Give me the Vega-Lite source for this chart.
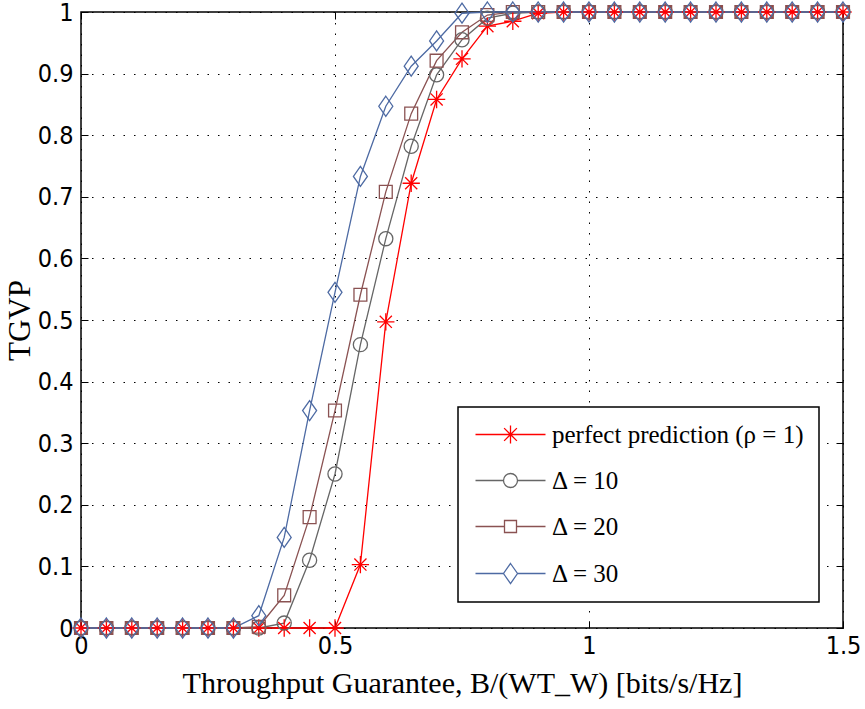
{
  "$schema": "https://vega.github.io/schema/vega-lite/v6.json",
  "width": 762,
  "height": 616,
  "autosize": {"type": "none"},
  "padding": {"left": 81, "top": 12, "right": 22, "bottom": 81},
  "background": "white",
  "config": {
    "view": {"stroke": "black", "strokeWidth": 1.5},
    "axis": {
      "labelFont": "Liberation Sans Narrow, DejaVu Sans Condensed, sans-serif",
      "labelFontSize": 25,
      "labelColor": "black",
      "labelFlush": false,
      "titleFont": "Liberation Serif, serif",
      "titleFontWeight": "normal",
      "titleColor": "black",
      "domain": false,
      "tickColor": "black",
      "tickSize": -7,
      "tickWidth": 1,
      "gridColor": "black",
      "gridDash": [1.5, 9],
      "gridWidth": 1
    },
    "legend": {
      "orient": "none",
      "legendX": 377,
      "legendY": 395,
      "strokeColor": "black",
      "fillColor": "white",
      "padding": 15,
      "symbolSize": 400,
      "labelOffset": 54,
      "labelFont": "Liberation Serif, serif",
      "labelFontSize": 25,
      "labelColor": "black",
      "labelLimit": 500,
      "rowPadding": 20,
      "symbolStrokeWidth": 1.3
    }
  },
  "data": {
    "values": [
      {"x": 0, "y": 0, "series": "perfect prediction (ρ = 1)"},
      {"x": 0.05, "y": 0, "series": "perfect prediction (ρ = 1)"},
      {"x": 0.1, "y": 0, "series": "perfect prediction (ρ = 1)"},
      {"x": 0.15, "y": 0, "series": "perfect prediction (ρ = 1)"},
      {"x": 0.2, "y": 0, "series": "perfect prediction (ρ = 1)"},
      {"x": 0.25, "y": 0, "series": "perfect prediction (ρ = 1)"},
      {"x": 0.3, "y": 0, "series": "perfect prediction (ρ = 1)"},
      {"x": 0.35, "y": 0, "series": "perfect prediction (ρ = 1)"},
      {"x": 0.4, "y": 0, "series": "perfect prediction (ρ = 1)"},
      {"x": 0.45, "y": 0, "series": "perfect prediction (ρ = 1)"},
      {"x": 0.5, "y": 0, "series": "perfect prediction (ρ = 1)"},
      {"x": 0.55, "y": 0.103, "series": "perfect prediction (ρ = 1)"},
      {"x": 0.6, "y": 0.497, "series": "perfect prediction (ρ = 1)"},
      {"x": 0.65, "y": 0.722, "series": "perfect prediction (ρ = 1)"},
      {"x": 0.7, "y": 0.858, "series": "perfect prediction (ρ = 1)"},
      {"x": 0.75, "y": 0.924, "series": "perfect prediction (ρ = 1)"},
      {"x": 0.8, "y": 0.977, "series": "perfect prediction (ρ = 1)"},
      {"x": 0.85, "y": 0.985, "series": "perfect prediction (ρ = 1)"},
      {"x": 0.9, "y": 0.998, "series": "perfect prediction (ρ = 1)"},
      {"x": 0.95, "y": 1, "series": "perfect prediction (ρ = 1)"},
      {"x": 1.0, "y": 1, "series": "perfect prediction (ρ = 1)"},
      {"x": 1.05, "y": 1, "series": "perfect prediction (ρ = 1)"},
      {"x": 1.1, "y": 1, "series": "perfect prediction (ρ = 1)"},
      {"x": 1.15, "y": 1, "series": "perfect prediction (ρ = 1)"},
      {"x": 1.2, "y": 1, "series": "perfect prediction (ρ = 1)"},
      {"x": 1.25, "y": 1, "series": "perfect prediction (ρ = 1)"},
      {"x": 1.3, "y": 1, "series": "perfect prediction (ρ = 1)"},
      {"x": 1.35, "y": 1, "series": "perfect prediction (ρ = 1)"},
      {"x": 1.4, "y": 1, "series": "perfect prediction (ρ = 1)"},
      {"x": 1.45, "y": 1, "series": "perfect prediction (ρ = 1)"},
      {"x": 1.5, "y": 1, "series": "perfect prediction (ρ = 1)"},

      {"x": 0, "y": 0, "series": "Δ = 10"},
      {"x": 0.05, "y": 0, "series": "Δ = 10"},
      {"x": 0.1, "y": 0, "series": "Δ = 10"},
      {"x": 0.15, "y": 0, "series": "Δ = 10"},
      {"x": 0.2, "y": 0, "series": "Δ = 10"},
      {"x": 0.25, "y": 0, "series": "Δ = 10"},
      {"x": 0.3, "y": 0, "series": "Δ = 10"},
      {"x": 0.35, "y": 0, "series": "Δ = 10"},
      {"x": 0.4, "y": 0.008, "series": "Δ = 10"},
      {"x": 0.45, "y": 0.11, "series": "Δ = 10"},
      {"x": 0.5, "y": 0.25, "series": "Δ = 10"},
      {"x": 0.55, "y": 0.46, "series": "Δ = 10"},
      {"x": 0.6, "y": 0.632, "series": "Δ = 10"},
      {"x": 0.65, "y": 0.782, "series": "Δ = 10"},
      {"x": 0.7, "y": 0.898, "series": "Δ = 10"},
      {"x": 0.75, "y": 0.955, "series": "Δ = 10"},
      {"x": 0.8, "y": 0.99, "series": "Δ = 10"},
      {"x": 0.85, "y": 0.998, "series": "Δ = 10"},
      {"x": 0.9, "y": 1, "series": "Δ = 10"},
      {"x": 0.95, "y": 1, "series": "Δ = 10"},
      {"x": 1.0, "y": 1, "series": "Δ = 10"},
      {"x": 1.05, "y": 1, "series": "Δ = 10"},
      {"x": 1.1, "y": 1, "series": "Δ = 10"},
      {"x": 1.15, "y": 1, "series": "Δ = 10"},
      {"x": 1.2, "y": 1, "series": "Δ = 10"},
      {"x": 1.25, "y": 1, "series": "Δ = 10"},
      {"x": 1.3, "y": 1, "series": "Δ = 10"},
      {"x": 1.35, "y": 1, "series": "Δ = 10"},
      {"x": 1.4, "y": 1, "series": "Δ = 10"},
      {"x": 1.45, "y": 1, "series": "Δ = 10"},
      {"x": 1.5, "y": 1, "series": "Δ = 10"},

      {"x": 0, "y": 0, "series": "Δ = 20"},
      {"x": 0.05, "y": 0, "series": "Δ = 20"},
      {"x": 0.1, "y": 0, "series": "Δ = 20"},
      {"x": 0.15, "y": 0, "series": "Δ = 20"},
      {"x": 0.2, "y": 0, "series": "Δ = 20"},
      {"x": 0.25, "y": 0, "series": "Δ = 20"},
      {"x": 0.3, "y": 0, "series": "Δ = 20"},
      {"x": 0.35, "y": 0.002, "series": "Δ = 20"},
      {"x": 0.4, "y": 0.053, "series": "Δ = 20"},
      {"x": 0.45, "y": 0.18, "series": "Δ = 20"},
      {"x": 0.5, "y": 0.353, "series": "Δ = 20"},
      {"x": 0.55, "y": 0.541, "series": "Δ = 20"},
      {"x": 0.6, "y": 0.708, "series": "Δ = 20"},
      {"x": 0.65, "y": 0.835, "series": "Δ = 20"},
      {"x": 0.7, "y": 0.921, "series": "Δ = 20"},
      {"x": 0.75, "y": 0.967, "series": "Δ = 20"},
      {"x": 0.8, "y": 0.995, "series": "Δ = 20"},
      {"x": 0.85, "y": 1, "series": "Δ = 20"},
      {"x": 0.9, "y": 1, "series": "Δ = 20"},
      {"x": 0.95, "y": 1, "series": "Δ = 20"},
      {"x": 1.0, "y": 1, "series": "Δ = 20"},
      {"x": 1.05, "y": 1, "series": "Δ = 20"},
      {"x": 1.1, "y": 1, "series": "Δ = 20"},
      {"x": 1.15, "y": 1, "series": "Δ = 20"},
      {"x": 1.2, "y": 1, "series": "Δ = 20"},
      {"x": 1.25, "y": 1, "series": "Δ = 20"},
      {"x": 1.3, "y": 1, "series": "Δ = 20"},
      {"x": 1.35, "y": 1, "series": "Δ = 20"},
      {"x": 1.4, "y": 1, "series": "Δ = 20"},
      {"x": 1.45, "y": 1, "series": "Δ = 20"},
      {"x": 1.5, "y": 1, "series": "Δ = 20"},

      {"x": 0, "y": 0, "series": "Δ = 30"},
      {"x": 0.05, "y": 0, "series": "Δ = 30"},
      {"x": 0.1, "y": 0, "series": "Δ = 30"},
      {"x": 0.15, "y": 0, "series": "Δ = 30"},
      {"x": 0.2, "y": 0, "series": "Δ = 30"},
      {"x": 0.25, "y": 0, "series": "Δ = 30"},
      {"x": 0.3, "y": 0, "series": "Δ = 30"},
      {"x": 0.35, "y": 0.02, "series": "Δ = 30"},
      {"x": 0.4, "y": 0.147, "series": "Δ = 30"},
      {"x": 0.45, "y": 0.353, "series": "Δ = 30"},
      {"x": 0.5, "y": 0.545, "series": "Δ = 30"},
      {"x": 0.55, "y": 0.733, "series": "Δ = 30"},
      {"x": 0.6, "y": 0.847, "series": "Δ = 30"},
      {"x": 0.65, "y": 0.912, "series": "Δ = 30"},
      {"x": 0.7, "y": 0.953, "series": "Δ = 30"},
      {"x": 0.75, "y": 0.998, "series": "Δ = 30"},
      {"x": 0.8, "y": 1, "series": "Δ = 30"},
      {"x": 0.85, "y": 1, "series": "Δ = 30"},
      {"x": 0.9, "y": 1, "series": "Δ = 30"},
      {"x": 0.95, "y": 1, "series": "Δ = 30"},
      {"x": 1.0, "y": 1, "series": "Δ = 30"},
      {"x": 1.05, "y": 1, "series": "Δ = 30"},
      {"x": 1.1, "y": 1, "series": "Δ = 30"},
      {"x": 1.15, "y": 1, "series": "Δ = 30"},
      {"x": 1.2, "y": 1, "series": "Δ = 30"},
      {"x": 1.25, "y": 1, "series": "Δ = 30"},
      {"x": 1.3, "y": 1, "series": "Δ = 30"},
      {"x": 1.35, "y": 1, "series": "Δ = 30"},
      {"x": 1.4, "y": 1, "series": "Δ = 30"},
      {"x": 1.45, "y": 1, "series": "Δ = 30"},
      {"x": 1.5, "y": 1, "series": "Δ = 30"}
    ]
  },
  "layer": [
    {
      "mark": {"type": "line", "strokeWidth": 1.3, "clip": false},
      "encoding": {
        "x": {
          "field": "x", "type": "quantitative",
          "scale": {"domain": [0, 1.5], "nice": false, "zero": false},
          "axis": {
            "values": [0, 0.5, 1, 1.5], "format": "~g", "grid": true,
            "labelPadding": 12, "title": "Throughput Guarantee, B/(WT_W) [bits/s/Hz]",
            "titleFontSize": 30, "titlePadding": 10
          }
        },
        "y": {
          "field": "y", "type": "quantitative",
          "scale": {"domain": [0, 1], "nice": false},
          "axis": {
            "values": [0, 0.1, 0.2, 0.3, 0.4, 0.5, 0.6, 0.7, 0.8, 0.9, 1], "format": "~g", "grid": true,
            "labelPadding": 15, "title": "TGVP", "titleFontSize": 31, "titlePadding": 1
          }
        },
        "color": {
          "field": "series", "type": "nominal",
          "scale": {
            "domain": ["perfect prediction (ρ = 1)", "Δ = 10", "Δ = 20", "Δ = 30"],
            "range": ["#ff0000", "#666666", "#8a5252", "#4d6aa3"]
          },
          "legend": {
            "title": null,
            "encode": {
              "legend": {"update": {"strokeWidth": {"value": 1.5}}},
              "symbols": {
                "update": {
                  "shape": {"signal": "datum.value === 'Δ = 10' ? 'M-1,0L1.8,0M3.2,0L6,0M1.8,0A0.7,0.7 0 1,1 3.2,0A0.7,0.7 0 1,1 1.8,0' : datum.value === 'Δ = 20' ? 'M-1,0L1.9,0M3.1,0L6,0M1.9,-0.6L3.1,-0.6L3.1,0.6L1.9,0.6Z' : datum.value === 'Δ = 30' ? 'M-1,0L1.8,0M3.2,0L6,0M2.5,-1L3.2,0L2.5,1L1.8,0Z' : 'M-1,0L6,0M2.5,-0.9L2.5,0.9M1.86,-0.64L3.14,0.64M1.86,0.64L3.14,-0.64'"},
                  "size": {"value": 400},
                  "fill": {"value": "transparent"},
                  "strokeWidth": {"value": 1.3},
                  "opacity": {"value": 1}
                }
              }
            }
          }
        }
      }
    },
    {
      "transform": [{"filter": "datum.series === 'perfect prediction (ρ = 1)'"}],
      "mark": {"type": "point", "filled": false, "strokeWidth": 1.3, "opacity": 1, "clip": false, "color": "#ff0000", "size": 300,
               "shape": "M0,-1L0,1M-1,0L1,0M-0.7,-0.7L0.7,0.7M-0.7,0.7L0.7,-0.7"},
      "encoding": {
        "x": {"field": "x", "type": "quantitative", "axis": null},
        "y": {"field": "y", "type": "quantitative", "axis": null}
      }
    },
    {
      "transform": [{"filter": "datum.series === 'Δ = 10'"}],
      "mark": {"type": "point", "filled": false, "strokeWidth": 1.3, "opacity": 1, "clip": false, "color": "#666666", "size": 200, "shape": "circle"},
      "encoding": {
        "x": {"field": "x", "type": "quantitative", "axis": null},
        "y": {"field": "y", "type": "quantitative", "axis": null}
      }
    },
    {
      "transform": [{"filter": "datum.series === 'Δ = 20'"}],
      "mark": {"type": "point", "filled": false, "strokeWidth": 1.3, "opacity": 1, "clip": false, "color": "#8a5252", "size": 165, "shape": "square"},
      "encoding": {
        "x": {"field": "x", "type": "quantitative", "axis": null},
        "y": {"field": "y", "type": "quantitative", "axis": null}
      }
    },
    {
      "transform": [{"filter": "datum.series === 'Δ = 30'"}],
      "mark": {"type": "point", "filled": false, "strokeWidth": 1.3, "opacity": 1, "clip": false, "color": "#4d6aa3", "size": 400, "shape": "M0,-1L0.7,0L0,1L-0.7,0Z"},
      "encoding": {
        "x": {"field": "x", "type": "quantitative", "axis": null},
        "y": {"field": "y", "type": "quantitative", "axis": null}
      }
    },
    {
      "mark": {"type": "point", "opacity": 0},
      "encoding": {
        "x": {
          "field": "x", "type": "quantitative",
          "axis": {"orient": "top", "values": [0, 0.5, 1, 1.5], "labels": false, "title": null, "grid": false}
        },
        "y": {
          "field": "y", "type": "quantitative",
          "axis": {"orient": "right", "values": [0, 0.1, 0.2, 0.3, 0.4, 0.5, 0.6, 0.7, 0.8, 0.9, 1], "labels": false, "title": null, "grid": false}
        }
      }
    }
  ],
  "resolve": {"axis": {"x": "independent", "y": "independent"}}
}
